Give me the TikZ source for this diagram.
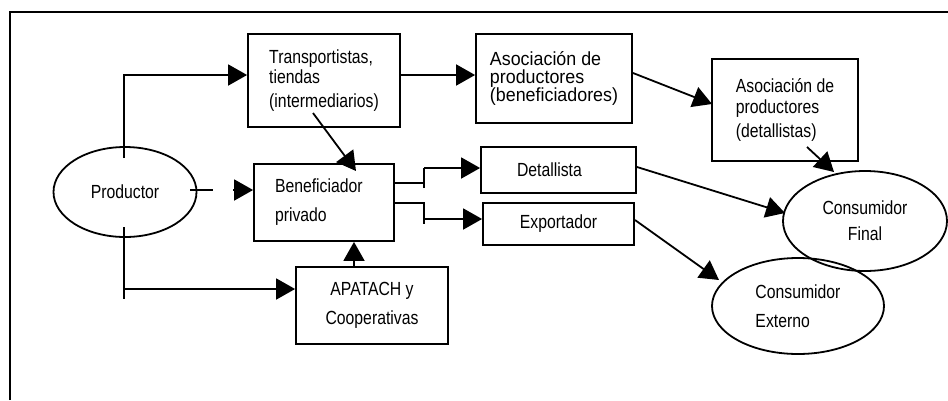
\documentclass[tikz,border=0pt]{standalone}
\usepackage{fontspec}
\setmainfont{Liberation Sans}[FakeStretch=0.83]
\newfontfamily\widefont{Liberation Sans}[FakeStretch=0.94]
\usetikzlibrary{arrows.meta,shapes.geometric}
\begin{document}
\begin{tikzpicture}[x=1pt,y=-1pt,line width=1.8pt,
  box/.style={draw,rectangle,inner sep=0pt},
  oval/.style={draw,ellipse,inner sep=0pt},
  fA/.style={font=\fontsize{19}{20}\selectfont},
  fB/.style={font=\fontsize{19}{29}\selectfont},
  fC/.style={font=\fontsize{19}{26}\selectfont},
  fW/.style={font=\widefont\fontsize{19}{18}\selectfont},
  arr/.style={-{Triangle[length=19pt,width=21pt]}}]
\useasboundingbox (0,0) rectangle (948,400);
\draw (10,400) -- (10,12) -- (948,12);
% nodes
\node[box,fA,minimum width=152pt,minimum height=93pt,align=left] (trans) at (324,80.5) {Transportistas,\\ tiendas\\[4pt] (intermediarios)};
\node[box,fW,minimum width=156pt,minimum height=89pt,align=left] (asocb) at (554,78.5) {Asociación de\\ productores\\ (beneficiadores)};
\node[box,fA,minimum width=146pt,minimum height=102pt,align=left] (asocd) at (785,110) {Asociación de\\[1pt] productores\\[4pt] (detallistas)};
\node[box,fA,minimum width=155pt,minimum height=46pt,text width=83pt,align=left] (deta) at (558.5,170) {Detallista};
\node[box,fA,minimum width=151pt,minimum height=42pt,align=center] (expo) at (558.5,224) {Exportador};
\node[box,fB,minimum width=140pt,minimum height=77pt,text width=98pt,align=left] (bene) at (324,202.5) {Beneficiador\\ privado};
\node[box,fB,minimum width=152pt,minimum height=77pt,align=center] (apat) at (372,305.5) {APATACH y\\ Cooperativas};
\node[oval,fA,minimum width=143pt,minimum height=90pt] (prod) at (125,192) {Productor};
\node[oval,fC,minimum width=164pt,minimum height=100pt,align=center] (cfin) at (865,221) {Consumidor\\ Final};
\node[oval,fB,minimum width=172pt,minimum height=96pt,align=left] (cext) at (798,306) {Consumidor\\ Externo};
% connectors
\coordinate (pn) at (124,158);
\coordinate (pt) at (124,75);
\draw[arr] (pn) -- (pt) -- (pt -| trans.west);
\coordinate (pe1) at (190,190);
\coordinate (pe2) at (213,190);
\coordinate (pe3) at (233,190);
\draw (pe1) -- (pe2);
\draw[arr] (pe3) -- (pe3 -| bene.west);
\coordinate (ps) at (124,227);
\coordinate (pb) at (124,299);
\coordinate (ja) at (124,289);
\draw (ps) -- (pb);
\draw[arr] (ja) -- (ja -| apat.west);
\coordinate (an) at (354,267);
\draw[arr] (an) -- (an |- bene.south);
\coordinate (ti) at (313,113);
\coordinate (bi) at (356,171);
\draw[arr] (ti) -- (bi);
\coordinate (t6) at (400,75);
\draw[arr] (t6) -- (t6 -| asocb.west);
\coordinate (ab1) at (633,73);
\coordinate (ad1) at (712,104);
\draw[arr] (ab1) -- (ad1);
\coordinate (ad2) at (807,147);
\coordinate (cf1) at (834,172);
\draw[arr] (ad2) -- (cf1);
\coordinate (b1) at (394,183);
\coordinate (j1) at (424,183);
\coordinate (j1a) at (424,188);
\coordinate (j1b) at (424,168);
\draw (b1) -- (j1);
\draw (j1a) -- (j1b);
\draw[arr] (j1b) -- (j1b -| deta.west);
\coordinate (b2) at (394,203);
\coordinate (j2) at (424,203);
\coordinate (j2a) at (424,224);
\coordinate (j2b) at (424,219);
\draw (b2) -- (j2) -- (j2a);
\draw[arr] (j2b) -- (j2b -| expo.west);
\coordinate (d1) at (637,167);
\coordinate (cf2) at (785,213);
\draw[arr] (d1) -- (cf2);
\coordinate (e1) at (635,220);
\coordinate (ce1) at (719,280);
\draw[arr] (e1) -- (ce1);
\end{tikzpicture}
\end{document}
